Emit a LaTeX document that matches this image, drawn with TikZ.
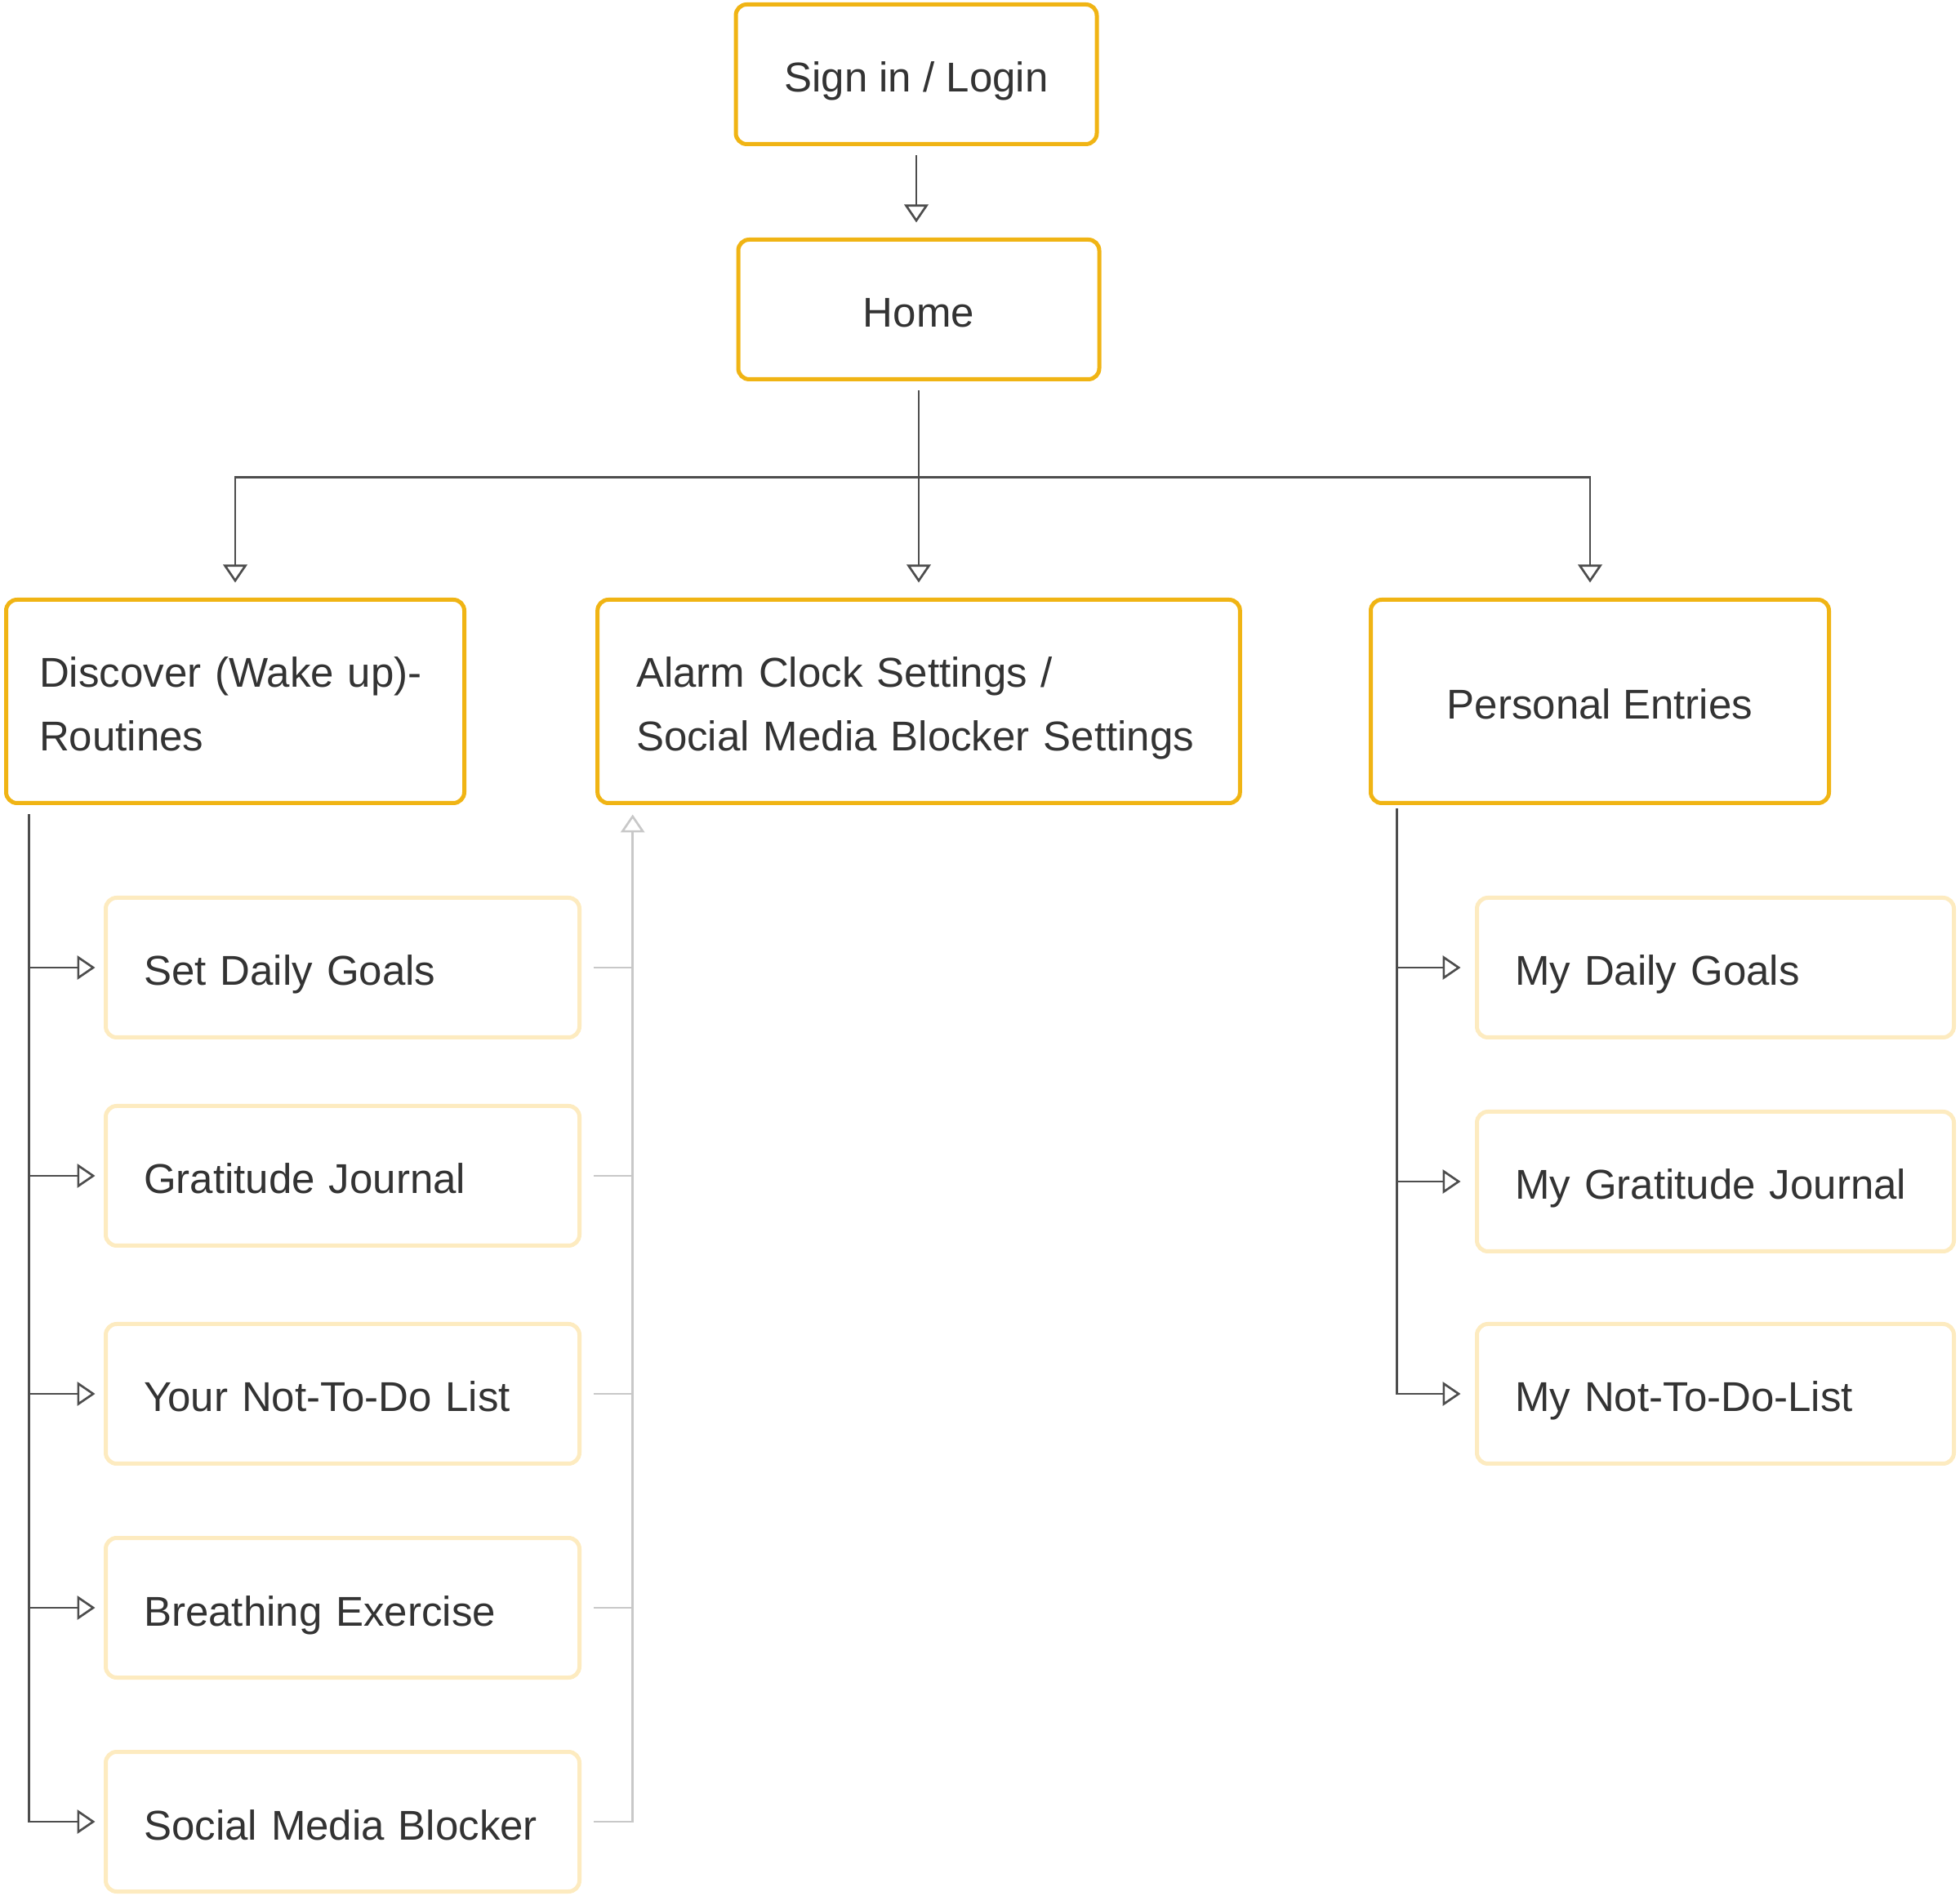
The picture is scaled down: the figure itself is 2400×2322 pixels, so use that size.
\documentclass[tikz,border=0pt]{standalone}
\usepackage{fontspec}
\setmainfont{Liberation Sans}
\usepackage{tikz}
\usetikzlibrary{arrows.meta,positioning,calc}
\definecolor{boxgold}{RGB}{240,180,20}
\definecolor{boxpale}{RGB}{253,235,192}
\definecolor{linegray}{RGB}{77,77,77}
\definecolor{fadegray}{RGB}{200,200,200}
\definecolor{txtgray}{RGB}{51,51,51}
\tikzset{
  main/.style={draw=boxgold,line width=1.5pt,rounded corners=4pt,text=txtgray,
    font=\fontsize{15.3}{23.4}\selectfont,minimum height=51.3pt,
    text height=13.2pt,text depth=0pt},
  big/.style={main,minimum height=74.7pt},
  twoline/.style={big,align=left,text depth=23.4pt},
  sub/.style={main,draw=boxpale,align=left,inner xsep=14pt,text width=146pt},
  tip/.style={arrows={-Triangle[open,length=6.6pt,width=8.8pt]}},
  link/.style={draw=linegray,line width=0.8pt,tip},
  backline/.style={draw=fadegray,line width=0.8pt},
  back/.style={backline,tip}
}
\begin{document}
\begin{tikzpicture}[x=0.3pt,y=-0.3pt]
        \useasboundingbox (0,0) rectangle (2400,2322);
        \node[main,minimum width=132.6pt] (login) at (1122,91) {Sign in / Login};
        \node[main,minimum width=132.6pt] (home) at (1125,379) {Home};
        \node[twoline,inner xsep=12.2pt,text width=143.9pt] (disc) at (288,859) {Discover (Wake up)-\\Routines};
        \node[twoline,inner xsep=14.2pt,text width=207.6pt] (alarm) at (1125,859) {Alarm Clock Settings /\\Social Media Blocker Settings};
        \node[big,minimum width=168.3pt] (pers) at (1959,859) {Personal Entries};
        \foreach \n/\y/\t in {goals/1185/Set Daily Goals,grat/1440/Gratitude Journal,notdo/1707/Your Not-To-Do List,breath/1969/Breathing Exercise,block/2231/Social Media Blocker}
          \node[sub] (\n) at (419.5,\y) {\t};
        \foreach \n/\y/\t in {mygoals/1185/My Daily Goals,mygrat/1447/My Gratitude Journal,mynotdo/1707/My Not-To-Do-List}
          \node[sub,text width=147.2pt] (\n) at (2100.5,\y) {\t};
        % top of the tree
        \draw[link,shorten <=3.45pt,shorten >=5.55pt] (login.south) -- (login.south |- home.north);
        \path (home.south) ++(0,117.5) coordinate (hub);
        \draw[link,shorten <=3.45pt,shorten >=5.55pt] (home.south) -- (alarm.north);
        \draw[link,shorten >=5.55pt] (hub) -| (disc.north);
        \draw[link,shorten >=5.55pt] (hub) -| ([xshift=-3.6pt]pers.north);
        % routines
        \coordinate (ltop) at ([xshift=9.15pt,yshift=-3.45pt]disc.south west);
        \draw[link,shorten >=3.15pt] (ltop) |- (block.west);
        \foreach \n in {goals,grat,notdo,breath}
          \draw[link,shorten >=3.15pt] (ltop |- \n.west) -- (\n.west);
        % back to the settings
        \coordinate (gtop) at ([xshift=13.65pt,yshift=-3.45pt]alarm.south west);
        \draw[back] ([xshift=4.35pt]block.east) -| (gtop);
        \foreach \n in {goals,grat,notdo,breath}
          \draw[backline] ([xshift=4.35pt]\n.east) -- (gtop |- \n.east);
        % personal entries
        \coordinate (rtop) at ([xshift=10.35pt,yshift=-1.2pt]pers.south west);
        \draw[link,shorten >=5.25pt] (rtop) |- (mynotdo.west);
        \foreach \n in {mygoals,mygrat}
          \draw[link,shorten >=5.25pt] (rtop |- \n.west) -- (\n.west);
\end{tikzpicture}
\end{document}
